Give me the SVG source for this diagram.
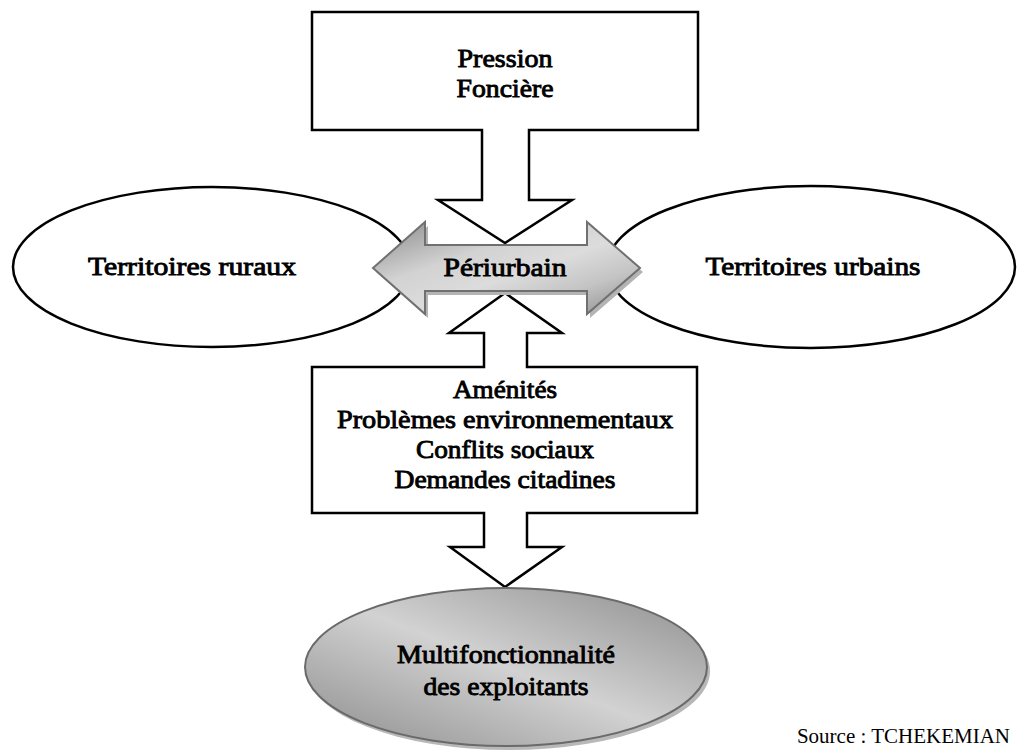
<svg xmlns="http://www.w3.org/2000/svg" width="1017" height="751" viewBox="0 0 1017 751">
<style>
.t{font-family:"Liberation Serif","Times New Roman",serif;font-weight:normal;font-size:26px;fill:#000;stroke:#000;stroke-width:0.9px;text-anchor:middle}
.src{font-family:"Liberation Serif","Times New Roman",serif;font-size:21px;fill:#000;text-anchor:end}
.shape{fill:#fff;stroke:#000;stroke-width:2.5}
.callout{fill:#fff;stroke:#000;stroke-width:2.5;stroke-linejoin:miter}
</style>
<defs>
<linearGradient id="gArrow" x1="0" y1="0" x2="1" y2="1">
<stop offset="0" stop-color="#8a8a8a"/>
<stop offset="0.35" stop-color="#d2d2d2"/>
<stop offset="0.55" stop-color="#dcdcdc"/>
<stop offset="0.75" stop-color="#c4c4c4"/>
<stop offset="1" stop-color="#8a8a8a"/>
</linearGradient>
<linearGradient id="gEll" x1="1" y1="0" x2="0" y2="1">
<stop offset="0" stop-color="#8c8c8c"/>
<stop offset="0.5" stop-color="#d2d2d2"/>
<stop offset="1" stop-color="#8c8c8c"/>
</linearGradient>
</defs>
<rect width="1017" height="751" fill="#fff"/>

<g id="rural">
<ellipse class="shape" cx="212" cy="267" rx="199" ry="80"/>
<text class="t" x="192" y="275" textLength="208" lengthAdjust="spacingAndGlyphs">Territoires ruraux</text>
</g>

<g id="urbain">
<ellipse class="shape" cx="811" cy="267" rx="204" ry="81"/>
<text class="t" x="813" y="275" textLength="215" lengthAdjust="spacingAndGlyphs">Territoires urbains</text>
</g>

<g id="pression">
<polygon class="callout" points="312,12 698,12 698,130 529,130 529,200 572,200 505,243 438,200 482,200 482,130 312,130"/>
<text class="t" x="505" y="67" textLength="95" lengthAdjust="spacingAndGlyphs">Pression</text>
<text class="t" x="505" y="97" textLength="97" lengthAdjust="spacingAndGlyphs">Foncière</text>
</g>

<g id="amenites">
<polygon class="callout" points="505,293 562,333 527,333 527,367 697,367 697,513 527,513 527,547 562,547 505,587 450,547 484,547 484,513 312,513 312,367 484,367 484,333 449,333"/>
<text class="t" x="505" y="398" textLength="104" lengthAdjust="spacingAndGlyphs">Aménités</text>
<text class="t" x="505" y="428" textLength="336" lengthAdjust="spacingAndGlyphs">Problèmes environnementaux</text>
<text class="t" x="505" y="458" textLength="178" lengthAdjust="spacingAndGlyphs">Conflits sociaux</text>
<text class="t" x="505" y="488" textLength="221" lengthAdjust="spacingAndGlyphs">Demandes citadines</text>
</g>

<g id="connectors"></g>

<g id="periurbain">
<polygon points="376,272 428,226 428,249 590,249 590,226 643,272 590,318 590,295 428,295 428,318" fill="#b4b4b4"/>
<polygon points="373,268 425,222 425,245 587,245 587,222 640,268 587,314 587,291 425,291 425,314" fill="url(#gArrow)" stroke="#707070" stroke-width="2"/>
<text class="t" x="505" y="276" textLength="123" lengthAdjust="spacingAndGlyphs">Périurbain</text>
</g>

<g id="multifonction">
<ellipse cx="509" cy="671" rx="201" ry="79" fill="#b8b8b8"/>
<ellipse cx="506" cy="667" rx="201" ry="79" fill="url(#gEll)" stroke="#6a6a6a" stroke-width="2"/>
<text class="t" x="506" y="663" textLength="218" lengthAdjust="spacingAndGlyphs">Multifonctionnalité</text>
<text class="t" x="506" y="695" textLength="165" lengthAdjust="spacingAndGlyphs">des exploitants</text>
</g>

<text class="src" x="1010" y="743">Source : TCHEKEMIAN</text>
</svg>
